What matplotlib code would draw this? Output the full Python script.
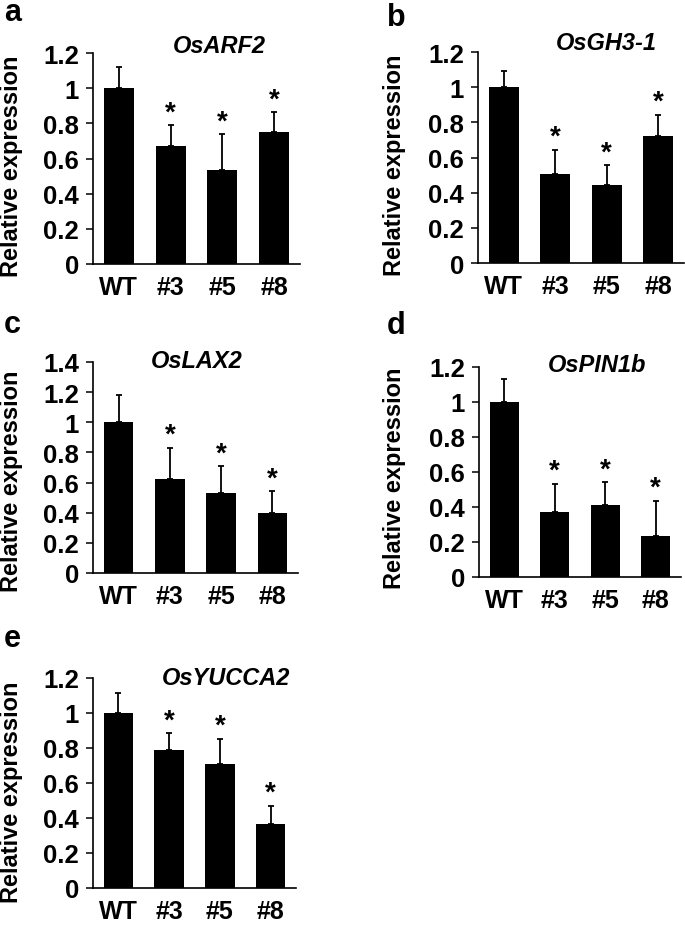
import numpy as np
import matplotlib
matplotlib.use('Agg')
import matplotlib.pyplot as plt

plt.rcParams['font.family'] = ['Liberation Sans', 'DejaVu Sans']
plt.rcParams['font.weight'] = 'bold'

# 数据
lines = ['WT', '#3', '#5', '#8']
genes = ['OsARF2', 'OsGH3-1', 'OsLAX2', 'OsPIN1b', 'OsYUCCA2']
letters = ['a', 'b', 'c', 'd', 'e']

arf2_mean = [1.0, 0.67, 0.533, 0.752]
arf2_err = [0.122, 0.118, 0.205, 0.11]
gh3_mean = [1.0, 0.505, 0.442, 0.72]
gh3_err = [0.092, 0.14, 0.114, 0.123]
lax2_mean = [1.0, 0.627, 0.532, 0.4]
lax2_err = [0.18, 0.202, 0.175, 0.142]
pin1b_mean = [1.0, 0.373, 0.411, 0.234]
pin1b_err = [0.129, 0.16, 0.129, 0.202]
yucca2_mean = [1.0, 0.786, 0.708, 0.366]
yucca2_err = [0.113, 0.098, 0.144, 0.105]

signif = [False, True, True, True]
ymax = [1.2, 1.2, 1.4, 1.2, 1.2]

W, H = 685, 928
# 像素位置 (left, right, top, bottom)
boxes = [(93, 300, 54, 265), (478, 684, 53, 264), (93, 298, 363, 574),
         (479, 681, 367.5, 578), (93, 296, 679, 889)]
# 标题位置 (轴坐标)
title_pos = [(0.61, 1.005), (0.625, 1.015), (0.506, 0.975), (0.583, 0.98), (0.654, 0.971)]
letter_pos = [(4, 21), (387, 26), (4, 333), (387, 334), (4, 647)]
ylabel_pos = [(12, 166), (395, 165), (12, 481), (395, 478), (12, 792)]

means = [arf2_mean, gh3_mean, lax2_mean, pin1b_mean, yucca2_mean]
errs = [arf2_err, gh3_err, lax2_err, pin1b_err, yucca2_err]

fig = plt.figure(figsize=(W / 100, H / 100), dpi=100)

for i in range(5):
    l, r, t, b = boxes[i]
    ax = fig.add_axes([l / W, 1 - b / H, (r - l) / W, (b - t) / H])
    x = np.arange(len(lines))
    ax.bar(x, means[i], width=0.58, color='black', zorder=2)
    ax.errorbar(x, means[i], yerr=[np.zeros(4), errs[i]], fmt='none',
                ecolor='black', elinewidth=1.3, capsize=2.3, capthick=1.3, zorder=1)
    for k in range(4):
        if signif[k]:
            ax.annotate('*', (x[k], means[i][k] + errs[i][k]), xytext=(0, 0),
                        textcoords='offset points', ha='center', va='bottom',
                        fontsize=20, fontweight='bold')
    ax.set_xlim(-0.5, 3.5)
    ax.set_ylim(0, ymax[i])
    yt = np.round(np.arange(0, ymax[i] + 0.01, 0.2), 1)
    ax.set_yticks(yt)
    ax.set_yticklabels([('%g' % v) for v in yt])
    ax.set_xticks(x)
    ax.set_xticklabels(lines)
    ax.spines['top'].set_visible(False)
    ax.spines['right'].set_visible(False)
    ax.spines['left'].set_linewidth(1.2)
    ax.spines['bottom'].set_linewidth(1.2)
    ax.tick_params(axis='y', direction='out', length=5, width=1.1, pad=5, labelsize=18.5)
    ax.tick_params(axis='x', length=0, pad=8, labelsize=18)
    ax.text(title_pos[i][0], title_pos[i][1], genes[i], transform=ax.transAxes,
            ha='center', va='baseline', fontsize=17, fontweight='bold', style='italic')
    fig.text(letter_pos[i][0] / W, 1 - letter_pos[i][1] / H, letters[i],
             ha='left', va='baseline', fontsize=22, fontweight='bold')
    fig.text(ylabel_pos[i][0] / W, 1 - ylabel_pos[i][1] / H, 'Relative expression',
             rotation=90, ha='center', va='center', fontsize=17, fontweight='bold')

fig.savefig('out.png', dpi=100)
